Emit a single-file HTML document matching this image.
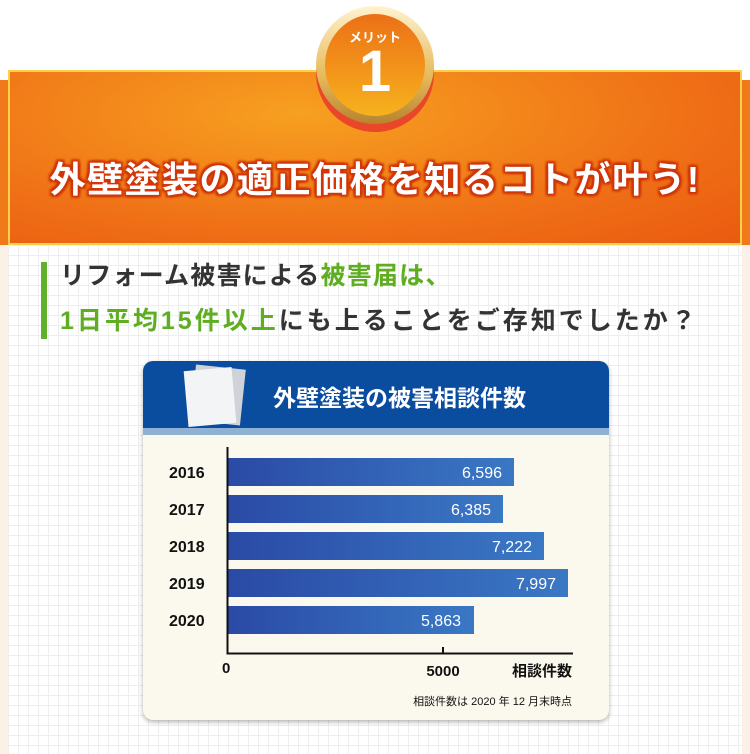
<!DOCTYPE html>
<html><head><meta charset="utf-8"><style>
*{margin:0;padding:0;box-sizing:border-box}
body{width:750px;height:754px;overflow:hidden;background:#fff;font-family:"Liberation Sans","Noto Sans CJK JP",sans-serif;position:relative}
.abs{position:absolute}
.grid{background-color:#fff;background-image:linear-gradient(#eee 1px,transparent 1px),linear-gradient(90deg,#eee 1px,transparent 1px);background-size:10px 10px}
</style></head><body>
<div class="abs" style="left:0;top:80px;width:750px;height:674px;background:#fcf1e6"></div>
<div class="abs" style="left:8px;top:70px;width:734px;height:175px;background:radial-gradient(ellipse at 40% 25%,#f7a020,#ef6e16 65%,#ea5a10);box-shadow:0 0 0 2px #fbd24a inset"></div>
<div class="abs" style="left:0;top:80px;width:8px;height:165px;background:#f07a1a"></div>
<div class="abs" style="left:742px;top:80px;width:8px;height:165px;background:#f07a1a"></div>
<div class="abs grid" style="left:8px;top:245px;width:734px;height:509px"></div>
<!-- medal -->
<div class="abs" style="left:316px;top:14px;width:118px;height:118px;border-radius:50%;background:#e9462a"></div>
<div class="abs" style="left:316px;top:6px;width:118px;height:118px;border-radius:50%;background:linear-gradient(#fff3d0,#e6b95a 60%,#b8832e)"></div>
<div class="abs" style="left:325px;top:14px;width:100px;height:102px;border-radius:50%;background:linear-gradient(#ec7016,#f7b21e)"></div>
<div class="abs" style="left:325px;top:27px;width:100px;text-align:center;color:#fff;font-size:13px;font-weight:bold">メリット</div>
<div class="abs" style="left:325px;top:42px;width:100px;text-align:center;color:#fff;font-size:58px;font-weight:bold;line-height:60px">1</div>
<div class="abs" style="left:0;top:151px;width:750px;text-align:center;color:#fff;font-size:36px;font-weight:bold;letter-spacing:1.5px;white-space:nowrap;text-shadow:0 0 3px #d63a0c,0 0 3px #d63a0c,2px 2px 2px #c83008,-2px -2px 2px #c83008,2px -2px 2px #c83008,-2px 2px 2px #c83008">外壁塗装の適正価格を知るコトが叶う!</div>
<!-- subtitle -->
<div class="abs" style="left:41px;top:262px;width:6px;height:77px;background:#5fb02a"></div>
<div class="abs" style="left:60px;top:261px;font-size:25px;font-weight:bold;color:#333;line-height:30px;letter-spacing:1.2px;white-space:nowrap">リフォーム被害による<span style="color:#5fae22">被害届は、</span></div>
<div class="abs" style="left:60px;top:306px;font-size:25px;font-weight:bold;color:#333;line-height:30px;letter-spacing:3px;white-space:nowrap"><span style="color:#5fae22">1日平均15件以上</span>にも上ることをご存知でしたか？</div>
<!-- card -->
<div class="abs" style="left:143px;top:361px;width:466px;height:359px;border-radius:10px;background:#fbf9ee;box-shadow:0 2px 5px rgba(0,0,0,.3);overflow:hidden">
 <div class="abs" style="left:0;top:0;width:466px;height:67px;background:#0a4d9f"></div>
 <div class="abs" style="left:0;top:67px;width:466px;height:7px;background:#8fb2d4"></div>
 <div class="abs" style="left:50px;top:6px;width:50px;height:56px;background:#cfd3d8;transform:rotate(6deg)"></div>
 <div class="abs" style="left:43px;top:8px;width:48px;height:56px;background:#f2f4f6;transform:rotate(-5deg)"></div>
 <div class="abs" style="left:130px;top:18px;color:#fff;font-size:23px;font-weight:bold;white-space:nowrap">外壁塗装の被害相談件数</div>
</div>
<svg class="abs" style="left:0;top:0" width="750" height="754">
<defs><linearGradient id="g" x1="0" x2="1"><stop offset="0" stop-color="#2a4aa6"/><stop offset="1" stop-color="#3a78c4"/></linearGradient></defs>
<g font-family="Liberation Sans,Noto Sans CJK JP,sans-serif">
<rect x="228" y="458" width="286" height="28" fill="url(#g)"/>
<rect x="228" y="495" width="275" height="28" fill="url(#g)"/>
<rect x="228" y="532" width="316" height="28" fill="url(#g)"/>
<rect x="228" y="569" width="340" height="28" fill="url(#g)"/>
<rect x="228" y="606" width="246" height="28" fill="url(#g)"/>
<g fill="#fff" font-size="16" text-anchor="end">
<text x="502" y="478">6,596</text><text x="491" y="515">6,385</text><text x="532" y="552">7,222</text><text x="556" y="589">7,997</text><text x="461" y="626">5,863</text></g>
<g fill="#111" font-size="16" font-weight="bold">
<text x="169" y="478">2016</text><text x="169" y="515">2017</text><text x="169" y="552">2018</text><text x="169" y="589">2019</text><text x="169" y="626">2020</text></g>
<path d="M227.5 447V653.5H573M443 647V653" stroke="#111" stroke-width="2" fill="none"/>
<g fill="#111" font-weight="bold"><text x="222" y="673" font-size="15">0</text><text x="443" y="676" font-size="15" text-anchor="middle">5000</text><text x="572" y="676" font-size="15" text-anchor="end">相談件数</text>
<text x="572" y="705" font-size="11" text-anchor="end" font-weight="normal">相談件数は 2020 年 12 月末時点</text></g>
</g></svg>
</body></html>
